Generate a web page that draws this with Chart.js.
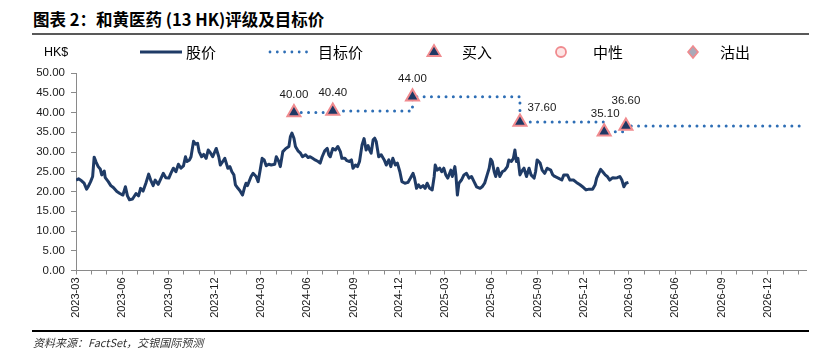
<!DOCTYPE html>
<html><head><meta charset="utf-8">
<script src="https://cdn.jsdelivr.net/npm/chart.js@4.4.1/dist/chart.umd.min.js"></script>
<style>
html,body{margin:0;padding:0;background:#fff;}
body{width:828px;height:356px;position:relative;overflow:hidden;font-family:"Noto Sans CJK SC",sans-serif;}
#title{position:absolute;left:33px;top:8px;font-size:16.5px;font-weight:700;color:#000;white-space:nowrap;line-height:22px;}
#rule1{position:absolute;left:32px;top:33px;width:777px;height:2px;background:#595959;}
#rule2{position:absolute;left:32px;top:330px;width:777px;height:2px;background:#000;}
#source{position:absolute;left:33px;top:334px;font-size:11px;font-style:italic;color:#333;line-height:16px;}
canvas{position:absolute;left:0;top:0;}
.lg{position:absolute;top:42px;height:20px;line-height:20px;font-size:15px;color:#000;white-space:nowrap;}
.lg svg{position:absolute;top:0;}
</style></head>
<body>
<div id="title">图表 2：和黄医药 (13 HK)评级及目标价</div>
<div id="rule1"></div>
<canvas id="c" width="828" height="356"></canvas>
<div class="lg" style="left:44px;font-family:'Liberation Sans',sans-serif;font-size:12.5px;">HK$</div>
<div class="lg" style="left:140px;width:42px;"><svg width="42" height="20"><line x1="0" y1="10" x2="42" y2="10" stroke="#1F3B66" stroke-width="3"/></svg></div>
<div class="lg" style="left:186px;">股价</div>
<div class="lg" style="left:268px;width:42px;"><svg width="42" height="20"><line x1="2" y1="10" x2="40" y2="10" stroke="#2E6EB5" stroke-width="2.8" stroke-linecap="round" stroke-dasharray="0 7.3"/></svg></div>
<div class="lg" style="left:318px;">目标价</div>
<div class="lg" style="left:426px;width:16px;"><svg width="16" height="20"><polygon points="8,3 14.5,14 1.5,14" fill="#1F3864" stroke="#F08A8E" stroke-width="1.8"/></svg></div>
<div class="lg" style="left:462px;">买入</div>
<div class="lg" style="left:553px;width:16px;"><svg width="16" height="20"><circle cx="8" cy="10" r="5" fill="#FDE5E5" stroke="#F08A8E" stroke-width="1.8"/></svg></div>
<div class="lg" style="left:593px;">中性</div>
<div class="lg" style="left:685px;width:16px;"><svg width="16" height="20"><polygon points="8,4 13,10 8,16 3,10" fill="#A9A9B8" stroke="#F08A8E" stroke-width="1.6"/></svg></div>
<div class="lg" style="left:720px;">沽出</div>
<div id="rule2"></div>
<div id="source">资料来源：FactSet，交银国际预测</div>
<script>
// ---- data ----
const startDate = '2023-03-01';
const axisEndDate = '2027-02-15';
const monthTicks = ['2023-03','2023-04','2023-05','2023-06','2023-07','2023-08','2023-09','2023-10','2023-11','2023-12',
 '2024-01','2024-02','2024-03','2024-04','2024-05','2024-06','2024-07','2024-08','2024-09','2024-10','2024-11','2024-12',
 '2025-01','2025-02','2025-03','2025-04','2025-05','2025-06','2025-07','2025-08','2025-09','2025-10','2025-11','2025-12',
 '2026-01','2026-02','2026-03','2026-04','2026-05','2026-06','2026-07','2026-08','2026-09','2026-10','2026-11','2026-12',
 '2027-01','2027-02'];
const labeledTicks = ['2023-03','2023-06','2023-09','2023-12','2024-03','2024-06','2024-09','2024-12',
 '2025-03','2025-06','2025-09','2025-12','2026-03','2026-06','2026-09','2026-12'];
const yTicks = [0,5,10,15,20,25,30,35,40,45,50];

// share price: days since 2023-03-01 and HK$ close
const priceDays = [0,5,11,16,21,24,29,33,36,40,44,48,51,56,58,64,69,74,81,87,
 93,98,102,106,112,119,124,128,133,139,144,148,153,157,163,168,173,178,184,188,
 193,198,203,208,213,217,220,225,228,233,237,241,244,249,253,258,262,266,271,278,
 283,286,291,295,301,305,309,313,316,321,325,330,334,337,340,347,351,357,361,365,
 369,373,377,382,387,394,397,402,405,410,416,422,425,428,432,435,440,445,449,455,
 460,464,469,474,480,484,488,493,498,501,504,509,514,519,524,527,533,537,542,546,
 549,554,558,562,567,571,575,579,582,585,589,592,595,600,605,611,615,620,624,628,
 633,637,642,646,652,658,663,668,671,675,679,683,688,692,696,701,706,710,712,716,
 721,725,729,733,737,743,746,751,753,756,759,764,769,774,779,784,789,794,801,805,
 810,815,819,822,825,829,832,836,840,845,850,855,858,863,867,870,873,876,880,885,
 888,893,898,902,908,911,914,920,924,929,934,941,945,949,956,963,967,974,979,986,
 992,999,1006,1011,1017,1024,1029,1032,1035,1040,1044,1049,1053,1058,1064,1068,1073,1078,1082,1086,
 1090,1095];
const priceValues = [22.9,23.2,22.7,22.1,20.6,21.2,22.5,23.8,28.7,27.4,26.3,25.7,24.2,25.2,23.5,22.5,21.5,21.0,20.0,19.5,
 19.1,21.2,18.9,17.9,18.1,19.5,18.9,20.8,20.1,22.3,24.4,22.9,21.5,22.9,21.8,23.2,24.6,23.5,23.4,24.6,
 25.9,25.0,26.9,25.9,26.5,28.8,27.6,28.0,28.8,32.7,32.0,32.2,30.1,28.8,29.4,28.4,30.5,29.9,28.8,30.9,
 28.8,26.7,27.6,28.4,25.9,26.3,25.0,24.2,21.7,20.8,20.2,19.1,21.0,22.1,21.5,23.8,24.6,23.8,22.5,25.4,
 28.4,28.0,26.5,26.9,26.7,26.9,28.8,27.6,26.3,30.1,30.9,31.4,33.9,34.8,33.5,31.4,30.3,29.7,28.8,29.3,
 28.6,28.8,28.4,28.0,27.6,27.2,28.8,30.3,30.9,29.3,28.8,30.9,30.5,31.4,30.1,28.4,28.4,27.8,27.6,28.0,
 25.9,26.7,26.3,27.6,31.8,33.4,30.5,31.6,30.5,29.7,33.1,33.5,32.7,28.8,29.3,28.0,26.7,28.0,26.3,28.4,
 26.7,27.2,25.0,22.5,22.1,22.3,23.4,24.6,23.4,20.8,21.7,21.0,21.5,20.8,22.1,20.8,20.4,23.8,26.7,25.4,
 25.9,25.0,25.9,24.2,23.4,25.4,23.8,26.3,24.2,19.1,22.1,22.9,24.2,24.6,23.4,23.8,22.5,21.2,20.8,21.2,
 22.1,24.2,25.9,28.2,27.6,25.0,23.8,25.9,23.8,25.0,25.4,26.3,28.0,27.6,28.4,30.5,27.6,28.4,24.2,25.4,
 25.9,23.8,25.9,24.2,23.4,25.0,28.0,27.2,25.4,24.6,25.9,25.4,24.2,23.8,23.4,22.9,24.2,24.2,22.9,22.9,
 22.3,21.7,21.0,20.4,20.6,20.6,21.7,23.4,24.2,25.6,25.0,24.2,23.8,22.9,23.5,23.4,23.5,23.8,22.9,21.2,
 22.1,22.3];

// target price changes (all "买入" ratings)
const ratingDates = ['2024-05-06','2024-07-22','2024-12-27','2025-07-28','2026-01-11','2026-02-23'];
const targetPrices = [40.00, 40.40, 44.00, 37.60, 35.10, 36.60];
const targetLabels = ['40.00','40.40','44.00','37.60','35.10','36.60'];
</script>
<script>
const DAY = 86400000;
function toDays(s){ const p = s.split('-').map(Number); return (Date.UTC(p[0], p[1]-1, p[2]||1) - Date.UTC(2023,2,1)) / DAY; }
const x0 = toDays(startDate), xMax = toDays(axisEndDate);
const tickDays = monthTicks.map(m => toDays(m + '-01'));
const ratingDays = ratingDates.map(toDays);

const pricePts = priceDays.map((d,i) => ({x:d, y:priceValues[i]}));
const targetPts = ratingDays.map((d,i) => ({x:d, y:targetPrices[i]}));
targetPts.push({x:xMax, y:targetPrices[targetPrices.length-1]});
const ratingPts = ratingDays.map((d,i) => ({x:d, y:targetPrices[i]}));

// label placement (style only)
const labelOffsets = [[0,-18],[0,-18],[0,-18],[22,-14],[1,-18],[0,-25]];

const labelPlugin = {
  id:'tpLabels',
  afterDatasetsDraw(chart){
    const {ctx, scales:{x,y}} = chart;
    ctx.save();
    ctx.font = '11.5px "Liberation Sans", Arial, sans-serif';
    ctx.fillStyle = '#1a1a1a';
    ctx.textAlign = 'center';
    ctx.textBaseline = 'middle';
    ratingDays.forEach((d,i) => {
      const px = x.getPixelForValue(d), py = y.getPixelForValue(targetPrices[i]);
      ctx.fillText(targetLabels[i], px + labelOffsets[i][0], py + labelOffsets[i][1]);
    });
    ctx.restore();
  }
};

const axisColor = '#8a8a8a';
new Chart(document.getElementById('c'), {
  type:'line',
  data:{datasets:[
    {label:'买入', data:ratingPts, showLine:false, pointStyle:'triangle', pointRadius:7.5, pointHoverRadius:7.5,
     pointBackgroundColor:'#1F3864', pointBorderColor:'#F08A8E', pointBorderWidth:2, order:0},
    {label:'目标价', data:targetPts, stepped:'before', borderColor:'#2E6EB5', borderWidth:3, borderDash:[0,7.3],
     borderCapStyle:'round', pointRadius:0, fill:false, order:1},
    {label:'股价', data:pricePts, borderColor:'#1F3B66', borderWidth:3, pointRadius:0, tension:0, fill:false,
     borderJoinStyle:'round', order:2}
  ]},
  options:{
    responsive:false, animation:false, devicePixelRatio:1,
    layout:{padding:{left:0, right:22, top:73, bottom:20}},
    plugins:{legend:{display:false}, tooltip:{enabled:false}, title:{display:false}},
    scales:{
      x:{type:'linear', min:x0, max:xMax,
        afterBuildTicks(s){ s.ticks = tickDays.map(v => ({value:v})); },
        afterFit(s){ s.height = 356 - 270.5 - 20; },
        ticks:{autoSkip:false, maxRotation:90, minRotation:90, padding:3, color:'#1a1a1a',
          font:{family:'"Liberation Sans", Arial, sans-serif', size:11},
          callback(v, i){ const m = monthTicks[i]; return labeledTicks.includes(m) ? m : ''; }},
        grid:{display:true, drawOnChartArea:false, drawTicks:true, tickLength:4, color:axisColor},
        border:{display:true, color:axisColor, width:1}
      },
      y:{min:0, max:50,
        afterBuildTicks(s){ s.ticks = yTicks.map(v => ({value:v})); },
        afterFit(s){ s.width = 76; },
        ticks:{padding:6, color:'#1a1a1a', font:{family:'"Liberation Sans", Arial, sans-serif', size:11.5},
          callback(v){ return Number(v).toFixed(2); }},
        grid:{display:true, drawOnChartArea:false, drawTicks:true, tickLength:5, color:axisColor},
        border:{display:true, color:axisColor, width:1}
      }
    }
  },
  plugins:[labelPlugin]
});
</script>
</body></html>
